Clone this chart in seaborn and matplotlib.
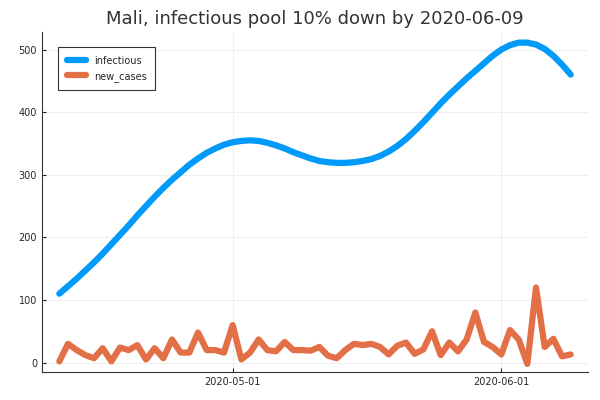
import numpy as np
import pandas as pd
import matplotlib
matplotlib.use("Agg")
import matplotlib.pyplot as plt
import matplotlib.dates as mdates
import seaborn as sns

dates = pd.date_range("2020-04-11", periods=60, freq="D")
infectious = [110, 122, 134, 147, 160, 174, 189, 204, 219, 235, 250, 265, 279, 292, 304,
              316, 326, 335, 342, 348, 352, 354, 355, 354, 351, 347, 342, 336, 331, 326,
              322, 320, 319, 319, 320, 322, 325, 330, 337, 346, 357, 370, 384, 399, 414,
              428, 441, 454, 466, 478, 490, 500, 507, 511, 511, 508, 501, 490, 476, 460]
new_cases = [2, 30, 20, 12, 7, 23, 2, 24, 20, 28, 5, 23, 7, 37, 16, 16, 48, 20, 20, 16,
             60, 5, 16, 37, 20, 18, 33, 20, 20, 19,
             25, 11, 7, 20, 30, 28, 30, 25, 13, 27, 32, 14, 21, 50, 12, 32, 18, 37, 80, 33,
             25, 13, 52, 37, -2, 120, 25, 38, 10, 13]

df = pd.DataFrame({"date": dates, "infectious": infectious, "new_cases": new_cases})

sns.set_style("white")
plt.rcParams["font.family"] = ["DejaVu Sans"]
fig, ax = plt.subplots(figsize=(6, 4), dpi=100)

sns.lineplot(data=df, x="date", y="infectious", ax=ax, color="#009AFA", linewidth=4.5, label="infectious")
sns.lineplot(data=df, x="date", y="new_cases", ax=ax, color="#E36F47", linewidth=4.5, label="new_cases")

ax.set_xlim(pd.Timestamp("2020-04-09"), pd.Timestamp("2020-06-11"))
ax.set_ylim(-15, 528)
ax.set_yticks([0, 100, 200, 300, 400, 500])
ax.set_xticks([pd.Timestamp("2020-05-01"), pd.Timestamp("2020-06-01")])
ax.xaxis.set_major_formatter(mdates.DateFormatter("%Y-%m-%d"))
ax.grid(True, color="#eeeeee", linewidth=0.8)
ax.tick_params(labelsize=7, length=3, direction="in", left=True, bottom=True)
ax.set_xlabel("")
ax.set_ylabel("")
for s in ["top", "right"]:
    ax.spines[s].set_visible(False)
for s in ["left", "bottom"]:
    ax.spines[s].set_color("#333333")
ax.set_title("Mali, infectious pool 10% down by 2020-06-09", fontsize=13, color="#333333")
leg = ax.legend(loc="upper left", fontsize=7, frameon=True, fancybox=False,
                edgecolor="black", bbox_to_anchor=(0.02, 0.97), borderpad=0.9)
leg.get_frame().set_linewidth(0.8)

plt.subplots_adjust(left=0.07, right=0.98, top=0.92, bottom=0.07)
plt.savefig("out.png")
